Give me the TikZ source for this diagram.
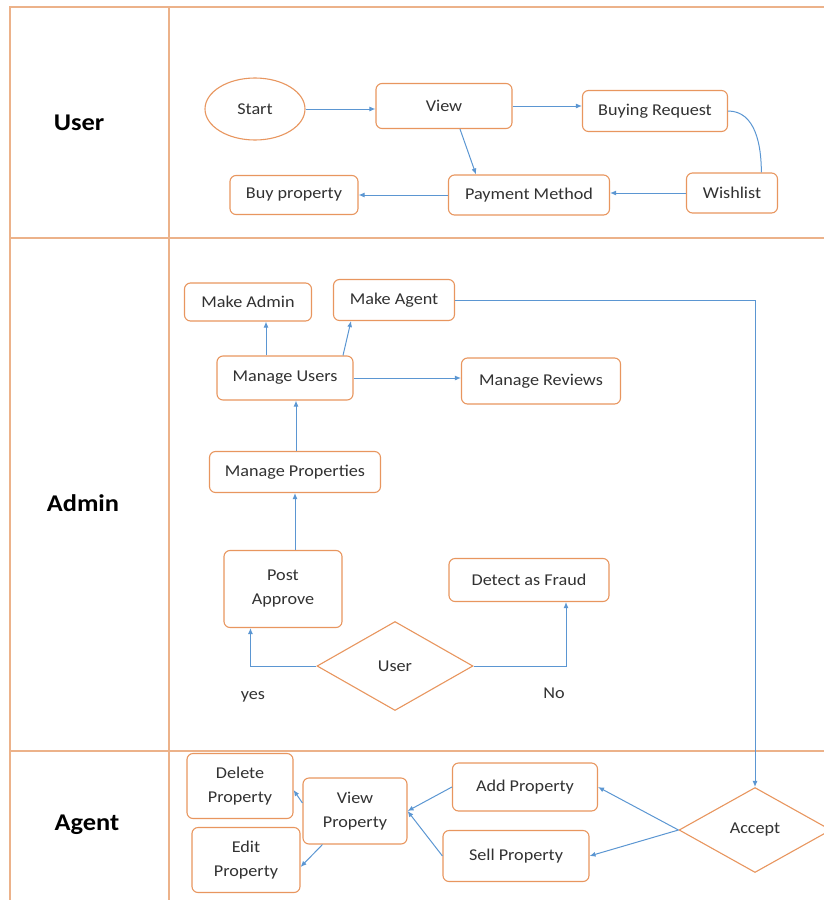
\documentclass[tikz,border=0pt]{standalone}
\usepackage{fontspec}
\setmainfont{Carlito}[FakeStretch=1.1]
\usetikzlibrary{arrows.meta,positioning,calc,shapes.geometric}
\definecolor{laneorange}{RGB}{236,178,138}
\definecolor{boxorange}{RGB}{232,150,95}
\definecolor{flowblue}{RGB}{91,150,210}
\definecolor{inkgrey}{RGB}{50,50,50}
\tikzset{
  box/.style={draw=boxorange,line width=1.1pt,rounded corners=6pt,fill=white,text=inkgrey,
    font=\fontsize{16.5}{24}\selectfont,align=center,inner sep=2pt},
  terminal/.style={draw=boxorange,line width=1.1pt,shape=ellipse,fill=white,text=inkgrey,
    font=\fontsize{16.5}{24}\selectfont,inner sep=0pt},
  decide/.style={draw=boxorange,line width=1.1pt,shape=diamond,fill=white,text=inkgrey,
    font=\fontsize{16.5}{24}\selectfont,inner sep=0pt},
  flow/.style={draw=flowblue,line width=1pt,-{Latex[length=6pt,width=5pt]}},
  plainflow/.style={draw=flowblue,line width=1pt},
  lane/.style={draw=laneorange,line width=1.4pt},
  lanename/.style={font=\fontsize{24}{28}\selectfont\bfseries,text=black},
  choice/.style={font=\fontsize{16.5}{20}\selectfont,text=inkgrey}
}

\begin{document}
\begin{tikzpicture}[x=1pt,y=-1pt]
    \useasboundingbox (0,0) rectangle (824,900);

    % swim lanes
    \draw[lane] (840,7) -- (10,7) -- (10,910);
    \draw[lane] (169,7) -- (169,910);
    \draw[lane] (10,238) -- (840,238);
    \draw[lane] (10,751) -- (840,751);
    \node[lanename] (luser) at (79,123) {User};
    \node[lanename] (ladmin) at (83,503) {Admin};
    \node[lanename] (lagent) at (87,825) {Agent};

    % user lane
    \node[terminal,minimum width=100pt,minimum height=62pt] (start) at (255,109) {Start};
    \node[box,minimum width=136pt,minimum height=45pt] (view) at (444,106) {View};
    \node[box,minimum width=145pt,minimum height=41pt] (breq) at (655,111) {Buying Request};
    \node[box,minimum width=91pt,minimum height=40pt] (wish) at (732,193) {Wishlist};
    \node[box,minimum width=161pt,minimum height=40pt] (pay) at (529,195) {Payment Method};
    \node[box,minimum width=128pt,minimum height=39pt] (buy) at (294,195) {Buy property};

    \draw[flow] (start.east) -- (start.east -| view.west);
    \draw[flow] (view.east) -- (view.east -| breq.west);
    \draw[plainflow] (breq.east) to[out=0,in=90] (wish.35);
    \draw[flow] ($(view.south)+(16,0)$) -- ($(pay.north)+(-53,0)$);
    \draw[flow] (wish.west) -- (wish.west -| pay.east);
    \draw[flow] (pay.west) -- (pay.west -| buy.east);

    % admin lane
    \node[box,minimum width=127pt,minimum height=38pt] (madmin) at (248,302) {Make Admin};
    \node[box,minimum width=121pt,minimum height=41pt] (magent) at (394,300) {Make Agent};
    \node[box,minimum width=136pt,minimum height=44pt] (musers) at (285,378) {Manage Users};
    \node[box,minimum width=159pt,minimum height=46pt] (mreviews) at (541,381) {Manage Reviews};
    \node[box,minimum width=171pt,minimum height=41pt] (mprops) at (295,472) {Manage Properties};
    \node[box,minimum width=118pt,minimum height=77pt] (papprove) at (283,589) {Post\\Approve};
    \node[box,minimum width=160pt,minimum height=43pt] (fraud) at (529,580) {Detect as Fraud};
    \node[decide,minimum width=156pt,minimum height=89pt] (ucheck) at (395,666) {User};
    \node[choice] (yes) at (253,697) {yes};
    \node[choice] (no) at (554,693) {No};

    \draw[flow] ($(musers.north)+(-19,0)$) -- ($(madmin.south)+(18,0)$);
    \draw[flow] ($(musers.north)+(58,0)$) -- ($(magent.south)+(-43,0)$);
    \draw[flow] (musers.east) -- (musers.east -| mreviews.west);
    \draw[flow] (mprops.north -| musers.south) ++(11,0) -- ($(musers.south)+(11,0)$);
    \draw[flow] (papprove.north -| mprops.south) -- (mprops.south);
    \draw[flow] (ucheck.west) -| ($(papprove.south west)+(27,0)$);
    \draw[flow] (ucheck.east) -| ($(fraud.south)+(37,0)$);

    % agent lane
    \node[box,minimum width=106pt,minimum height=65pt] (delp) at (240,786) {Delete\\Property};
    \node[box,minimum width=108pt,minimum height=65pt] (editp) at (246,860) {Edit\\Property};
    \node[box,minimum width=104pt,minimum height=66pt] (viewp) at (355,811) {View\\Property};
    \node[box,minimum width=145pt,minimum height=48pt] (addp) at (525,787) {Add Property};
    \node[box,minimum width=146pt,minimum height=51pt] (sellp) at (516,856) {Sell Property};
    \node[decide,minimum width=152pt,minimum height=85pt] (accept) at (755,830) {Accept};

    \draw[flow] (magent.east) -| (accept.north);
    \draw[flow] (accept.west) -- (addp.east);
    \draw[flow] (accept.west) -- (sellp.east);
    \draw[flow] (addp.west) -- (viewp.east);
    \draw[flow] (sellp.west) -- (viewp.east);
    \draw[flow] ($(viewp.west)+(0,-8)$) -- ($(delp.east)+(0,4)$);
    \draw[flow] ($(viewp.south west)+(20,0)$) -- ($(editp.east)+(0,7)$);
\end{tikzpicture}
\end{document}
